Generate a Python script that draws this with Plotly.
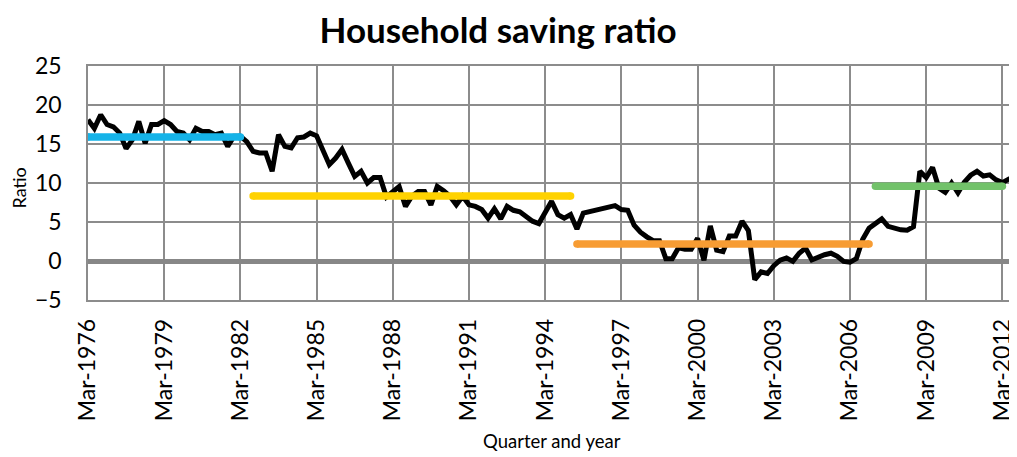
import plotly.graph_objects as go

# ---- data ----
start_year = 1976
months = ["Mar", "Jun", "Sep", "Dec"]
n_quarters = 147
quarters = [f"{months[i % 4]}-{start_year + i // 4}" for i in range(n_quarters)]

saving_ratio = [
    18.1, 17.0, 18.75, 17.5, 17.2, 16.4, 14.4, 15.55, 17.9, 15.1, 17.5, 17.5, 18.0,
    17.5, 16.6, 16.4, 15.55, 17.0, 16.6, 16.6, 16.2, 16.4, 14.7, 16.0, 16.0,
    15.3, 14.05, 13.85, 13.85, 11.5, 16.2, 14.7, 14.5, 15.8, 15.9, 16.4, 16.05,
    14.05, 12.35, 13.2, 14.3, 12.55, 10.85, 11.5, 10.0, 10.7, 10.7, 8.2, 8.9,
    9.55, 7.0, 8.3, 8.9, 8.9, 7.2, 9.55, 9.0, 8.3, 7.2, 8.3, 7.2, 7.0, 6.6, 5.5,
    6.7, 5.4, 7.0, 6.5, 6.3, 5.7, 5.1, 4.8, 6.2, 7.65,
    5.95, 5.5, 5.95, 4.1, 6.15, 6.35, 6.45, 6.65, 6.9, 7.1, 6.6, 6.5, 4.6, 3.7,
    3.1, 2.6, 2.6, 0.3, 0.3, 1.7, 1.5, 1.5, 2.9, 0.1,
    4.5, 1.4, 1.2, 3.2, 3.2, 5.1, 3.9, -2.4, -1.4, -1.6, -0.6, 0.1, 0.4, -0.05,
    1.0, 1.65, 0.15, 0.5, 0.8, 1.0, 0.6, -0.05, -0.15, 0.3, 2.8,
    4.2, 4.85, 5.4, 4.45, 4.15, 4.0, 3.95, 4.4, 11.5, 10.7, 12.0, 9.35, 8.8,
    10.0, 8.75, 10.1, 11.0, 11.5, 10.9, 11.05, 10.4, 10.05, 10.5, 10.3,
]

# period averages: (start label, end label, value)
period_starts = ["Mar-1976", "Sep-1982", "Jun-1995", "Mar-2007"]
period_ends = ["Mar-1982", "Mar-1995", "Dec-2006", "Mar-2012"]
period_means = [15.9, 8.33, 2.18, 9.58]
period_colors = ["#15B3E8", "#FFD200", "#F79C33", "#72C26A"]

tick_labels = [f"Mar-{y}" for y in range(1976, 2013, 3)]
y_ticks = [-5, 0, 5, 10, 15, 20, 25]

# ---- figure ----
grid = "#8C8C8C"
font_family = "Lato"
OFF = 8  # default page body margin
W, H = 1017 - OFF, 457 - OFF
ML, MR, MT, MB = 88 - OFF, 0, 66 - OFF, 157
pw = W - ML - MR
ph = H - MT - MB


def px_to_paper(xp, yp):
    """page pixel -> paper coords"""
    return (xp - OFF - ML) / pw, (H - MB - (yp - OFF)) / ph


fig = go.Figure()
fig.add_trace(go.Scatter(
    x=quarters, y=saving_ratio, mode="lines",
    line=dict(color="black", width=5), showlegend=False,
))
for s, e, m, c in zip(period_starts, period_ends, period_means, period_colors):
    fig.add_trace(go.Scatter(
        x=[s, e], y=[m, m], mode="lines+markers",
        line=dict(color=c, width=7.5),
        marker=dict(color=c, size=7.5, line=dict(width=0)),
        showlegend=False,
    ))

rx, ry = px_to_paper(18.5, 188)
qx, qy = px_to_paper(552, 441)

fig.update_layout(
    width=W, height=H,
    margin=dict(l=ML, r=MR, t=MT, b=MB, autoexpand=False),
    paper_bgcolor="white", plot_bgcolor="white",
    font=dict(family=font_family, color="black"),
    title=dict(
        text="<b>Household saving ratio</b>",
        font=dict(family=font_family, size=35, color="black"),
        x=(498 - OFF) / W, xref="container", xanchor="center",
        y=1 - (31 - OFF) / H, yref="container", yanchor="middle",
    ),
    xaxis=dict(
        type="category", categoryorder="array", categoryarray=quarters,
        range=[0, 146.3], automargin=False,
        tickmode="array", tickvals=tick_labels, ticktext=tick_labels,
        tickangle=-90, tickfont=dict(size=23, family=font_family),
        showgrid=True, gridcolor=grid, gridwidth=1.5,
        showline=True, linecolor=grid, linewidth=1.5, mirror=True,
        ticks="", ticklabelstandoff=8,
        zeroline=False,
    ),
    yaxis=dict(
        range=[-5, 25], tickmode="array", tickvals=y_ticks, automargin=False,
        tickfont=dict(size=23, family=font_family),
        showgrid=True, gridcolor=grid, gridwidth=1.5,
        showline=True, linecolor=grid, linewidth=1.5,
        zeroline=True, zerolinecolor="#878787", zerolinewidth=4.5,
        ticks="", ticklabelstandoff=20,
    ),
    annotations=[
        dict(text="Ratio", textangle=-90, x=rx, y=ry,
             xref="paper", yref="paper", showarrow=False,
             xanchor="center", yanchor="middle",
             font=dict(size=18, family=font_family)),
        dict(text="Quarter and year", x=qx, y=qy,
             xref="paper", yref="paper", showarrow=False,
             xanchor="center", yanchor="middle",
             font=dict(size=18.5, family=font_family)),
    ],
)

fig.write_html("out.html")
